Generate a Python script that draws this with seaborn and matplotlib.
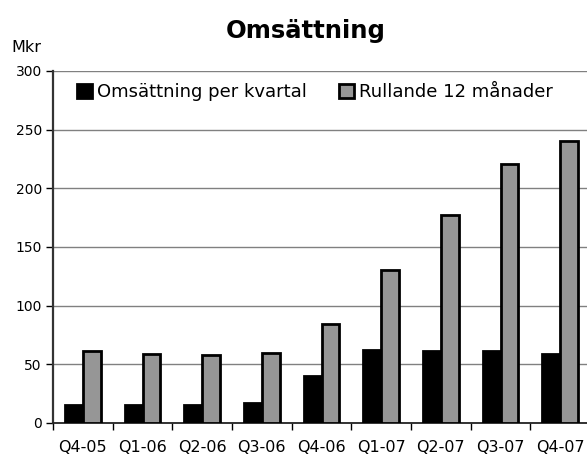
import numpy as np
import pandas as pd
import matplotlib
matplotlib.use("Agg")
import matplotlib.pyplot as plt
import seaborn as sns

quarters = ["Q4-05", "Q1-06", "Q2-06", "Q3-06", "Q4-06", "Q1-07", "Q2-07", "Q3-07", "Q4-07"]
per_quarter = [15, 15, 15, 17, 40, 62, 61, 61, 59]
rolling_12m = [61, 59, 58, 60, 84, 130, 177, 221, 240]
series_names = ["Omsättning per kvartal", "Rullande 12 månader"]

df = pd.DataFrame({
    "kvartal": quarters * 2,
    "serie": [series_names[0]] * len(quarters) + [series_names[1]] * len(quarters),
    "mkr": per_quarter + rolling_12m,
})

sns.set_style("white")
plt.rcParams["font.family"] = ["DejaVu Sans"]
plt.rcParams["text.color"] = "black"
plt.rcParams["xtick.color"] = "black"
plt.rcParams["ytick.color"] = "black"

fig = plt.figure(figsize=(5.87, 4.55), dpi=100)
ax = fig.add_axes([53 / 587, 32 / 455, 537 / 587, 352 / 455])

sns.barplot(
    data=df, x="kvartal", y="mkr", hue="serie",
    palette=["#000000", "#969696"], width=0.6,
    edgecolor="black", linewidth=2.0, saturation=1,
    errorbar=None, ax=ax, zorder=3,
)

ax.set_ylim(0, 300)
ax.set_yticks(np.arange(0, 301, 50))
ax.set_xlim(-0.5, len(quarters) - 0.5)
ax.yaxis.grid(True, color="#808080", linewidth=1.0, zorder=0)
ax.set_axisbelow(True)
ax.set_xlabel("")
ax.set_ylabel("")

for s in ["top", "right"]:
    ax.spines[s].set_visible(False)
ax.spines["left"].set_color("#333333")
ax.spines["bottom"].set_color("#222222")
ax.spines["left"].set_linewidth(1.6)
ax.spines["bottom"].set_linewidth(1.3)

ax.set_xticks(np.arange(len(quarters) + 1) - 0.5, minor=True)
ax.tick_params(axis="x", which="major", length=0, labelsize=11.5, pad=12)
ax.tick_params(axis="x", which="minor", length=5, width=1, color="black", direction="out")
ax.tick_params(axis="y", length=5, width=1, color="black", direction="out", labelsize=10, pad=3)
ax.tick_params(axis="both", left=True, bottom=True)
ax.xaxis.set_tick_params(which="minor", bottom=True)

handles, labels = ax.get_legend_handles_labels()
ax.legend(handles, labels, loc="upper left", bbox_to_anchor=((77 - 53) / 537, 1 - 12 / 352),
          ncol=2, frameon=False, fontsize=13, handlelength=0.83, handleheight=0.83,
          handletextpad=0.28, columnspacing=1.8, borderaxespad=0, borderpad=0)

fig.text(306 / 587, 1 - 31 / 455, "Omsättning", ha="center", va="center",
         fontsize=17.5, fontweight="bold")
fig.text(11 / 587, 1 - 47 / 455, "Mkr", ha="left", va="center", fontsize=11.5)

fig.savefig("out.png", dpi=100)
